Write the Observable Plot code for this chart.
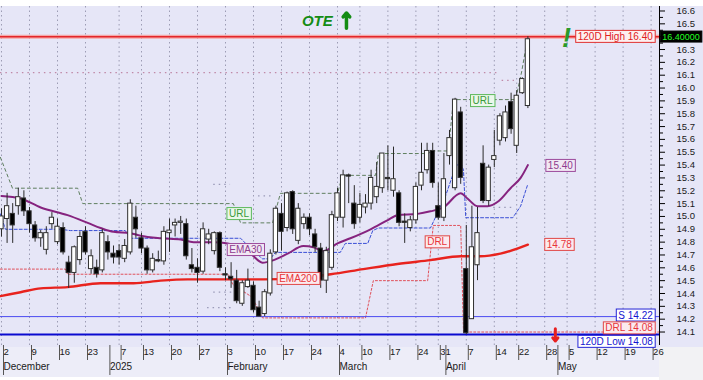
<!DOCTYPE html>
<html><head><meta charset="utf-8">
<script src="https://cdn.jsdelivr.net/npm/d3@7"></script>
<script src="https://cdn.jsdelivr.net/npm/@observablehq/plot@0.6"></script>
<style>
body{margin:0;background:#fff;}
#wrap{position:relative;width:703px;height:380px;overflow:hidden;font-family:Arial,"Liberation Sans",sans-serif;}
#bg{position:absolute;left:0;top:6px;width:703px;height:341px;background:#e6e6f7;}
#axbg{position:absolute;left:0;top:347px;width:659px;height:30px;background:#ededf8;}
#corner{position:absolute;left:659px;top:347px;width:44px;height:33px;background:#f2f2f4;}
#chart{position:absolute;left:0;top:0;}
</style></head><body>
<div id="wrap"><div id="bg"></div><div id="axbg"></div><div id="corner"></div><div id="chart"></div></div>
<script>
// ---- candles (one per trading day, index 0 = 2 Dec 2024) ----
const openV  = [14.90,14.98,15.02,15.08,15.14,15.04,14.93,14.83,14.74,14.94,14.80,14.91,14.64,14.56,14.66,14.88,14.59,14.60,14.58,14.80,
                14.71,14.73,14.67,14.72,14.99,14.83,14.75,14.58,14.66,14.65,14.87,14.93,14.95,14.94,14.62,14.60,14.57,14.82,14.73,14.87,
                14.55,14.53,14.50,14.32,14.45,14.46,14.29,14.24,14.40,14.72,15.02,14.91,15.19,14.81,14.94,14.99,14.86,14.75,14.50,14.60,
                14.99,14.99,15.32,15.10,14.99,15.07,15.10,15.15,15.22,15.30,15.20,15.18,14.96,14.91,14.97,15.24,15.36,15.51,15.08,14.99,
                15.47,15.22,15.81,14.59,14.20,14.62,15.41,15.12,15.44,15.59,15.61,15.89,15.55,15.96,15.86];
const highV  = [15.06,15.18,15.10,15.22,15.20,15.07,14.96,14.89,14.92,15.03,14.98,14.95,14.69,14.77,14.88,14.92,14.74,14.66,14.90,14.85,
                14.77,14.78,14.82,15.13,15.08,14.87,14.77,14.71,14.73,14.92,14.98,14.98,15.00,14.98,14.75,14.67,14.95,14.90,14.88,14.88,
                14.60,14.64,14.58,14.50,14.59,14.49,14.34,14.43,14.74,15.08,15.10,15.19,15.20,15.10,15.02,15.02,14.90,14.79,14.76,15.04,
                15.22,15.36,15.33,15.24,15.18,15.17,15.36,15.42,15.49,15.55,15.54,15.20,15.02,15.00,15.26,15.57,15.57,15.57,15.26,15.49,
                15.67,15.92,15.85,14.93,15.08,15.07,15.55,15.40,15.67,15.80,15.86,15.96,15.98,16.08,16.40];
const lowV   = [14.84,14.79,14.79,15.01,15.00,14.87,14.80,14.76,14.70,14.90,14.78,14.70,14.44,14.48,14.62,14.70,14.55,14.52,14.56,14.66,
                14.63,14.62,14.64,14.70,14.83,14.71,14.55,14.56,14.64,14.62,14.72,14.84,14.86,14.66,14.56,14.48,14.55,14.78,14.70,14.57,
                14.50,14.44,14.32,14.30,14.44,14.25,14.22,14.22,14.38,14.70,14.73,14.88,14.86,14.78,14.90,14.85,14.72,14.44,14.40,14.58,
                14.96,14.91,15.10,14.90,14.95,15.02,15.05,15.10,15.18,15.20,15.15,14.92,14.79,14.88,14.94,15.20,15.33,15.22,14.97,14.96,
                15.40,15.20,15.25,14.08,14.20,14.50,15.10,15.08,15.38,15.55,15.58,15.64,15.49,15.95,15.84];
const closeV = [15.00,15.08,14.93,15.15,15.04,14.94,14.83,14.87,14.87,14.99,14.92,14.72,14.56,14.76,14.84,14.72,14.69,14.55,14.87,14.72,
                14.68,14.68,14.77,15.10,14.90,14.75,14.58,14.67,14.65,14.88,14.89,14.95,14.96,14.69,14.59,14.56,14.90,14.86,14.87,14.60,
                14.54,14.51,14.34,14.48,14.50,14.27,14.22,14.41,14.71,15.06,14.88,15.18,14.90,15.06,14.99,14.90,14.76,14.50,14.73,15.01,
                15.18,15.32,15.31,14.94,15.09,15.10,15.30,15.23,15.49,15.29,15.29,14.95,14.95,14.97,15.23,15.34,15.51,15.26,14.99,15.29,
                15.61,15.91,15.30,14.09,14.76,14.87,15.12,15.38,15.47,15.78,15.81,15.68,15.94,16.07,16.38];

// ---- indicator lines, read as (day index, price) ----
const ema30Idx = [0,3.4,7,11.8,15.4,17.7,20,23,24.8,28.4,32,34.3,37.9,40.4,42.7,44.5,46.6,48.6,51.1,53.9,55.7,57.5,60,62.3,65.9,68.9,70.7,74.3,76.6,78.9,82,83.2,85,86.8,88.8,90.9,92.7,94];
const ema30Val = [15.16,15.14,15.07,15.01,14.95,14.91,14.88,14.87,14.85,14.83,14.82,14.80,14.80,14.79,14.76,14.71,14.64,14.66,14.71,14.77,14.76,14.73,14.79,14.83,14.90,14.97,15.01,15.02,15.04,15.07,15.18,15.14,15.08,15.08,15.12,15.22,15.30,15.40];
const ema200Idx = [-0.2,3.4,7,11.8,17.7,23.6,28.4,33.2,37.9,42.7,46.8,52.9,58.8,64.6,70.7,76.6,82,85.5,89.1,94];
const ema200Val = [14.38,14.41,14.44,14.45,14.48,14.48,14.50,14.51,14.51,14.51,14.51,14.52,14.55,14.59,14.63,14.66,14.69,14.69,14.71,14.78];
const urlIdx = [-0.2,1.96,13.6,14.5,41.4,42.7,48.4,49.8,60,60.9,66.8,67.3,76.3,76.6,79.8,80.7,91.8,92.9,93.9];
const urlVal = [15.46,15.22,15.22,15.10,15.10,14.95,14.95,15.18,15.18,15.32,15.32,15.49,15.49,15.51,15.51,15.91,15.91,16.13,16.38];
const drlIdx = [-0.2,11.4,11.8,40.5,41.3,44.8,45.9,46.6,65,66.4,76.1,77.1,82,82.5,117.6];
const drlVal = [14.59,14.59,14.55,14.55,14.47,14.37,14.27,14.21,14.21,14.50,14.50,14.93,14.93,14.10,14.10];
const stopIdx = [-0.2,0.7,10.5,12.3,22.1,23,42.7,44.5,46.6,48,48.9,60.5,61.4,65.4,66.3,67.3,76.6,78,79.3,81.1,82,82.5,82.9,91.3,92.7,93.9];
const stopVal = [15.02,14.90,14.90,14.89,14.89,14.83,14.83,14.75,14.67,14.67,14.72,14.72,14.79,14.79,14.89,14.91,14.91,15.04,15.16,15.39,15.42,15.36,14.99,14.99,15.08,15.24];

// ---- levels ----
const high120 = 16.40, low120 = 14.08, support = 14.22;
const pinkLevels = [{v:16.12, from:-0.2, to:89.1}, {v:16.06, from:89.4, to:91.6}];
const pivotLevels = [{v:15.25, from:37.9, to:40.9}, {v:15.16, from:45.9, to:48.6}, {v:14.41, from:37.9, to:41.4},
                     {v:14.29, from:36.8, to:41.4}, {v:15.07, from:87.9, to:91.4}];

// ---- axis ticks ----
const dayTickIdx = [0,5,10,15,21,25,30,35,40,45,50,55,60,64,69,74,78,83,88,92,97,101,106,111,116];
const dayTickLbl = ["2","9","16","23","7","13","20","27","3","10","17","24","4","10","17","24","31","7","14","22","28","5","12","19","26"];
const monthIdx = [0,19,40,60,79,99];
const monthLbl = ["December","2025","February","March","April","May"];
const priceTicks = d3.range(141,167).map(v => v/10);
const priceMinor = d3.range(141,166).map(v => v/10 + 0.05);

// ---- annotations (index, price) ----
const notesMid = [
  {t:"URL", i:42.4, v:15.02, k:"green"},
  {t:"URL", i:85.9, v:15.90, k:"green"},
  {t:"EMA30", i:43.6, v:14.74, k:"purple"},
  {t:"EMA200", i:53.0, v:14.515, k:"red"},
  {t:"DRL", i:77.8, v:14.80, k:"red"},
  {t:"15.40", i:99.8, v:15.395, k:"purple"},
  {t:"14.78", i:99.6, v:14.78, k:"red"}
];
const notesEnd = [
  {t:"120D High 16.40", i:116.3, v:16.40, k:"redb"},
  {t:"S 14.22", i:116.3, v:14.23, k:"blue"},
  {t:"DRL 14.08", i:116.3, v:14.13, k:"red"},
  {t:"120D Low 14.08", i:116.3, v:14.025, k:"blue"}
];
const lastPrice = [{t:"16.40000", i:118.0, v:16.40, k:"black"}];
const upArrow = [{i:61.6, from:16.465, to:16.585}];
const downArrow = [{i:98.9, from:14.125, to:14.03}];
const styles = {
  green:{fill:"#3a9a3a", stroke:"#5cb85c", bg:"#eaf7ea", w:"normal"},
  purple:{fill:"#8e3a8e", stroke:"#9b4a9b", bg:"#f1e8f4", w:"normal"},
  red:{fill:"#e8353a", stroke:"#e04848", bg:"#fbeaee", w:"normal"},
  redb:{fill:"#e0201e", stroke:"#e03030", bg:"#fdf0f0", w:"bold"},
  blue:{fill:"#1414d0", stroke:"#2525d5", bg:"#ffffff", w:"bold"},
  black:{fill:"#22ff22", stroke:"#000", bg:"#000", w:"normal"}
};

const candles = openV.map((o,i) => ({i, o, h:highV[i], l:lowV[i], c:closeV[i]}));
const pts = (I,V) => I.map((i,k) => ({i, v:V[k]}));
const xDomain = [-1/5.6, 658/5.6];
const dayMap = new Map(dayTickIdx.map((d,k)=>[d,dayTickLbl[k]]));
const monMap = new Map(monthIdx.map((d,k)=>[d,monthLbl[k]]));
const coveredTick = lastPrice[0].v;

const plot = Plot.plot({
  width:703, height:380, marginTop:6, marginBottom:35, marginLeft:0, marginRight:44,
  style:{background:"transparent", fontFamily:"Arial, 'Liberation Sans', sans-serif", fontSize:"9.5px", color:"#1a1a1a", overflow:"visible"},
  x:{domain:xDomain, axis:null},
  y:{domain:[13.995,16.635], axis:null},
  marks:[
    Plot.ruleX(dayTickIdx, {stroke:"#9c9cb4", strokeDasharray:"1.5,3", strokeWidth:1}),
    Plot.ruleY(pinkLevels, {y:"v", x1:"from", x2:"to", stroke:"#c08aa8", strokeDasharray:"1.5,4", strokeWidth:1.2}),
    Plot.ruleY(pivotLevels, {y:"v", x1:"from", x2:"to", stroke:"#9a9ab8", strokeDasharray:"1.5,4", strokeWidth:1.2}),
    Plot.line(pts(urlIdx,urlVal), {x:"i", y:"v", stroke:"#5f7f5f", strokeDasharray:"3,3", strokeWidth:1}),
    Plot.line(pts(drlIdx,drlVal), {x:"i", y:"v", stroke:"#e0505a", strokeDasharray:"2,2", strokeWidth:1}),
    Plot.line(pts(stopIdx,stopVal), {x:"i", y:"v", stroke:"#3a4fd6", strokeDasharray:"3,2", strokeWidth:1}),
    Plot.ruleY([support], {stroke:"#4a4af0", strokeWidth:1}),
    Plot.ruleY([low120], {stroke:"#0a0ad0", strokeWidth:2}),
    Plot.ruleY([high120], {stroke:"#f4a8a8", strokeWidth:4}),
    Plot.ruleY([high120], {stroke:"#e3262b", strokeWidth:1.6}),
    Plot.line(pts(ema200Idx,ema200Val), {x:"i", y:"v", stroke:"#e8231e", strokeWidth:2.4, curve:"monotone-x"}),
    Plot.line(pts(ema30Idx,ema30Val), {x:"i", y:"v", stroke:"#86237f", strokeWidth:2, curve:"monotone-x"}),
    Plot.ruleX(candles, {x:"i", y1:"l", y2:"h", stroke:"#2a2a2a", strokeWidth:1}),
    Plot.rect(candles, {x1:d=>d.i-0.38, x2:d=>d.i+0.38, y1:"o", y2:"c",
      fill:d=>d.c>=d.o?"#ffffff":"#000000", stroke:"#303030", strokeWidth:1}),
    Plot.ruleX([xDomain[1]], {stroke:"#000", strokeWidth:1}),
    Plot.axisY(priceTicks, {anchor:"right", label:null, tickSize:5, tickPadding:12,
      tickFormat:d=>Math.abs(d-coveredTick)<1e-9 ? "" : d3.format(".1f")(d), stroke:"#000", fill:"#1a1a1a"}),
    Plot.axisY(priceMinor, {anchor:"right", label:null, tickSize:3, tickFormat:()=>"", stroke:"#000"}),
    Plot.axisX(dayTickIdx, {anchor:"bottom", label:null, tickSize:15, tickPadding:-12, textAnchor:"start", dx:2, stroke:"#555", tickFormat:d=>dayMap.get(d), fill:"#1a1a1a"}),
    Plot.axisX(monthIdx, {anchor:"bottom", label:null, tickSize:30, tickPadding:-13, textAnchor:"start", dx:2, stroke:"#555", tickFormat:d=>monMap.get(d), fill:"#1a1a1a", fontSize:10}),
    Plot.text(notesMid, {x:"i", y:"v", text:"t", textAnchor:"middle", fontSize:10,
      fill:d=>styles[d.k].fill, fontWeight:d=>styles[d.k].w}),
    Plot.text(notesEnd, {x:"i", y:"v", text:"t", textAnchor:"end", fontSize:10,
      fill:d=>styles[d.k].fill, fontWeight:d=>styles[d.k].w}),
    Plot.text(lastPrice, {x:"i", y:"v", text:"t", textAnchor:"start", fontSize:9, fill:"#22ff22"}),
    Plot.text(["OTE"], {x:[56.4], y:[16.52], text:d=>d, fontSize:15, fontWeight:"bold", fontStyle:"italic", fill:"#148c14"}),
    Plot.arrow(upArrow, {x1:"i", x2:"i", y1:"from", y2:"to", stroke:"#148c14", strokeWidth:3.5, headLength:9, headAngle:80}),
    Plot.text(["!"], {x:[100.9], y:[16.39], text:d=>d, fontSize:27, fontWeight:"bold", fontStyle:"italic", fill:"#2a9a2a"}),
    Plot.arrow(downArrow, {x1:"i", x2:"i", y1:"from", y2:"to", stroke:"#e82020", strokeWidth:3, headLength:7, headAngle:80})
  ]
});
document.getElementById("chart").appendChild(plot);

// boxes behind annotation labels
const allNotes = [...notesMid, ...notesEnd, ...lastPrice];
const noteTexts = new Map(allNotes.map(n => [n.t, n.k]));
plot.querySelectorAll("text").forEach(el => {
  const k = noteTexts.get(el.textContent);
  if (!k || el.closest("[aria-label^='y-axis'],[aria-label^='x-axis']")) return;
  const b = el.getBBox(), s = styles[k];
  const r = document.createElementNS("http://www.w3.org/2000/svg","rect");
  r.setAttribute("x", b.x-2); r.setAttribute("y", b.y-0.5);
  r.setAttribute("width", b.width+4); r.setAttribute("height", b.height+1);
  r.setAttribute("fill", s.bg); r.setAttribute("stroke", s.stroke); r.setAttribute("stroke-width", 1);
  const tr = el.getAttribute("transform");
  if (tr) r.setAttribute("transform", tr);
  el.parentNode.insertBefore(r, el);
});
</script>
</body></html>
